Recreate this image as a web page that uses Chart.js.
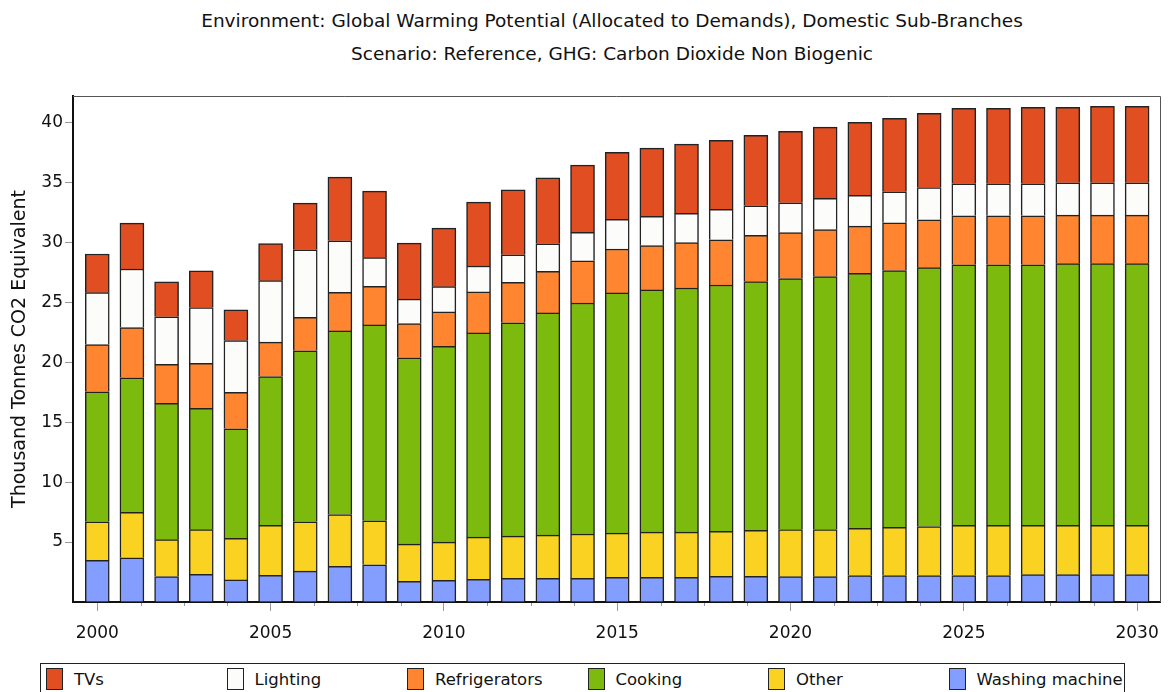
<html>
<head>
    <title>Global Warming Potential</title>
    <script src="https://cdn.jsdelivr.net/npm/chart.js@4/dist/chart.umd.min.js"></script>
    <style>
        body { margin: 0; background: #fff; font-family: "DejaVu Sans", sans-serif; }
        #wrap { position: relative; width: 1172px; height: 692px; overflow: hidden; }
        #title { position: absolute; left: 0; top: 4px; width: 1224px; text-align: center; font-size: 18.5px; line-height: 33px; color: #111; }
        #chartBox { position: absolute; left: 0; top: 0; width: 1172px; height: 660px; }
        #legend { position: absolute; left: 40px; top: 663px; width: 1083px; height: 40px; border: 1px solid #222; display: flex; }
        .item { width: 181px; display: flex; align-items: center; height: 30px; font-size: 16.5px; color: #111; padding-left: 5px; box-sizing: border-box; white-space: nowrap; }
        .sw { width: 15px; height: 20px; border: 1px solid #222; margin-right: 11px; flex: none; }
    </style>
</head>
<body>

<div id="wrap">
    <div id="title">
        Environment: Global Warming Potential (Allocated to Demands), Domestic Sub-Branches<br>
        Scenario: Reference, GHG: Carbon Dioxide Non Biogenic
    </div>
    <div id="chartBox"><canvas id="myChart" width="1172" height="660"></canvas></div>
    <div id="legend"></div>
</div>

<script type="text/javascript">
// years on the x axis
var years = [2000, 2001, 2002, 2003, 2004, 2005, 2006, 2007, 2008, 2009, 2010,
             2011, 2012, 2013, 2014, 2015, 2016, 2017, 2018, 2019, 2020,
             2021, 2022, 2023, 2024, 2025, 2026, 2027, 2028, 2029, 2030]

// thousand tonnes CO2 eq
var washing = [3.47, 3.69, 2.12, 2.31, 1.84, 2.22, 2.58, 2.97, 3.11, 1.72, 1.80,
               1.89, 1.97, 1.97, 1.97, 2.06, 2.06, 2.06, 2.14, 2.14, 2.11,
               2.11, 2.20, 2.20, 2.20, 2.20, 2.20, 2.28, 2.28, 2.28, 2.28]
var other = [3.22, 3.78, 3.08, 3.72, 3.46, 4.17, 4.11, 4.33, 3.66, 3.11, 3.20,
             3.52, 3.53, 3.61, 3.70, 3.69, 3.77, 3.77, 3.75, 3.83, 3.94,
             3.94, 3.94, 4.02, 4.10, 4.19, 4.19, 4.11, 4.11, 4.11, 4.11]
var cooking = [10.84, 11.23, 11.37, 10.12, 9.15, 12.42, 14.26, 15.31, 16.34, 15.54, 16.33,
               17.03, 17.78, 18.53, 19.27, 20.03, 20.20, 20.36, 20.55, 20.75, 20.92,
               21.09, 21.27, 21.42, 21.58, 21.74, 21.74, 21.74, 21.83, 21.83, 21.83]
var fridges = [3.94, 4.19, 3.25, 3.75, 3.03, 2.86, 2.80, 3.22, 3.22, 2.86, 2.86,
               3.42, 3.38, 3.47, 3.52, 3.66, 3.69, 3.78, 3.77, 3.85, 3.83,
               3.91, 3.94, 3.99, 4.00, 4.08, 4.08, 4.08, 4.05, 4.05, 4.05]
var lighting = [4.33, 4.88, 3.97, 4.66, 4.32, 5.13, 5.63, 4.30, 2.39, 2.03, 2.11,
                2.16, 2.30, 2.30, 2.36, 2.47, 2.44, 2.44, 2.53, 2.47, 2.49,
                2.61, 2.56, 2.58, 2.69, 2.67, 2.67, 2.67, 2.69, 2.69, 2.69]
var tvs = [3.22, 3.83, 2.91, 3.05, 2.56, 3.10, 3.88, 5.30, 5.55, 4.67, 4.88,
           5.33, 5.42, 5.50, 5.61, 5.60, 5.69, 5.77, 5.77, 5.89, 5.97,
           5.94, 6.09, 6.13, 6.19, 6.29, 6.29, 6.37, 6.29, 6.37, 6.37]

var seriesNames = ["Washing machine", "Other", "Cooking", "Refrigerators", "Lighting", "TVs"]
var seriesValues = [washing, other, cooking, fridges, lighting, tvs]
var seriesColors = ["#849eff", "#fad221", "#7cbb0e", "#ff8530", "#fcfcfa", "#e04e21"]

var datasets = []
for (var i = 0; i < seriesNames.length; i++) {
    var pts = []
    for (var j = 0; j < years.length; j++) {
        pts.push({x: years[j], y: seriesValues[i][j]})
    }
    datasets.push({
        label: seriesNames[i],
        data: pts,
        backgroundColor: seriesColors[i],
        borderColor: "#222",
        borderWidth: 1.5,
        barThickness: 24
    })
}

// light frame on top and right of the plot, plus short minor ticks under the x axis
var framePlugin = {
    id: 'frame',
    afterDraw: function(chart) {
        var a = chart.chartArea, c = chart.ctx, xs = chart.scales.x
        c.save()
        c.strokeStyle = "#555"
        c.lineWidth = 1
        c.beginPath()
        c.moveTo(a.left, a.top + 0.5)
        c.lineTo(a.right + 0.5, a.top + 0.5)
        c.lineTo(a.right + 0.5, a.bottom)
        c.stroke()
        c.strokeStyle = "#999"
        c.beginPath()
        xs.ticks.forEach(function(t) {
            if (t.value % 5 !== 0) {
                var px = Math.round(xs.getPixelForValue(t.value)) + 0.5
                c.moveTo(px, a.bottom + 1)
                c.lineTo(px, a.bottom + 4)
            }
        })
        c.stroke()
        c.restore()
    }
}

var font = {family: "DejaVu Sans", size: 17}

var ctx = document.getElementById("myChart")
var chart = new Chart(ctx, {
    type: 'bar',
    data: {datasets: datasets},
    options: {
        responsive: false,
        animation: false,
        layout: {padding: {top: 96, right: 12, left: 0, bottom: 0}},
        plugins: {legend: {display: false}, tooltip: {enabled: false}},
        scales: {
            x: {
                type: 'linear',
                stacked: true,
                offset: false,
                min: 1999.3,
                max: 2030.66,
                afterFit: function(s) { s.height = 58 },
                border: {color: "#111", width: 2},
                grid: {
                    drawOnChartArea: false, offset: false, tickLength: 9,
                    tickColor: function(c) { return c.tick && c.tick.value % 5 === 0 ? "#999" : "rgba(0,0,0,0)" }
                },
                ticks: {
                    stepSize: 1.25,
                    includeBounds: false,
                    autoSkip: false,
                    maxRotation: 0,
                    padding: 12,
                    color: "#111",
                    font: font,
                    callback: function(v) { return v % 5 === 0 ? String(v) : '' }
                }
            },
            y: {
                stacked: true,
                min: 0,
                max: 42.2,
                afterFit: function(s) { s.width = 73 },
                border: {color: "#111", width: 2},
                grid: {
                    drawOnChartArea: false, tickLength: 8,
                    tickColor: function(c) { return c.tick && c.tick.value === 0 ? "rgba(0,0,0,0)" : "#999" }
                },
                title: {display: true, text: "Thousand Tonnes CO2 Equivalent", color: "#111",
                        font: {family: "DejaVu Sans", size: 19}, padding: {top: 9, bottom: 0}},
                ticks: {
                    stepSize: 5,
                    includeBounds: false,
                    padding: 2,
                    color: "#111",
                    font: font,
                    callback: function(v) { return v === 0 ? '' : String(v) }
                }
            }
        }
    },
    plugins: [framePlugin]
})

// legend in the original order
var legendOrder = [5, 4, 3, 2, 1, 0]
var lg = document.getElementById("legend")
for (var k = 0; k < legendOrder.length; k++) {
    var n = legendOrder[k]
    var it = document.createElement("div")
    it.className = "item"
    it.innerHTML = '<span class="sw" style="background:' + seriesColors[n] + '"></span>' + seriesNames[n]
    lg.appendChild(it)
}
</script>

</body>
</html>
